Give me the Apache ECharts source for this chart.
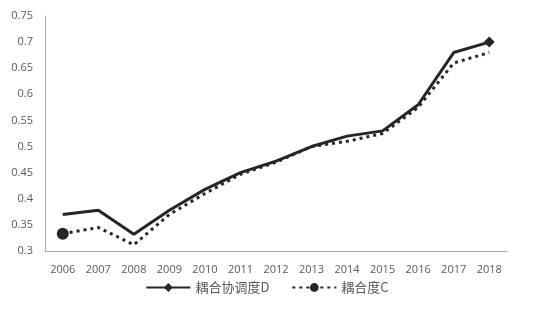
<!DOCTYPE html>
<html><head><meta charset="utf-8">
<script src="https://cdn.jsdelivr.net/npm/echarts@6/dist/echarts.min.js"></script>
<style>html,body{margin:0;padding:0;background:#fff}#c{width:534px;height:320px}</style>
</head><body><div id="c"></div>
<script>
var years = ['2006','2007','2008','2009','2010','2011','2012','2013','2014','2015','2016','2017','2018'];
var seriesD = [0.370, 0.378, 0.332, 0.378, 0.418, 0.450, 0.472, 0.500, 0.520, 0.530, 0.580, 0.680, 0.700];
var seriesC = [0.333, 0.345, 0.312, 0.370, 0.410, 0.447, 0.470, 0.500, 0.510, 0.525, 0.575, 0.660, 0.680];
var nameD = '耦合协调度D';
var nameC = '耦合度C';

var dataD = seriesD.map(function(v, i){ return i === seriesD.length - 1 ? {value: v, symbol: 'diamond', symbolSize: 11} : {value: v, symbol: 'none'}; });
var dataC = seriesC.map(function(v, i){ return i === 0 ? {value: v, symbol: 'circle', symbolSize: 12} : {value: v, symbol: 'none'}; });

var chart = echarts.init(document.getElementById('c'));
var txt = '#595959';
chart.setOption({
  animation: false,
  grid: {left: 45, right: 27, top: 16, bottom: 69},
  legend: {
    bottom: 21, left: 'center', itemGap: 22, itemWidth: 44, itemHeight: 11,
    textStyle: {color: txt, fontSize: 13, fontFamily: 'Noto Sans CJK SC'},
    data: [nameD, nameC]
  },
  xAxis: {
    type: 'category', data: years, boundaryGap: true,
    axisLine: {lineStyle: {color: '#a6a6a6', width: 1}},
    axisTick: {show: false},
    axisLabel: {color: txt, fontSize: 11, margin: 13, fontFamily: 'Open Sans'}
  },
  yAxis: {
    type: 'value', min: 0.3, max: 0.75, interval: 0.05,
    axisLine: {show: true, lineStyle: {color: '#a6a6a6', width: 1}},
    axisTick: {show: false},
    splitLine: {show: false},
    axisLabel: {color: txt, fontSize: 11, margin: 12, fontFamily: 'Open Sans',
      formatter: function(v){ return String(parseFloat(v.toFixed(2))); }}
  },
  series: [
    {name: nameD, type: 'line', data: dataD, symbol: 'diamond', symbolSize: 11,
     lineStyle: {color: '#262626', width: 3}, itemStyle: {color: '#262626'}},
    {name: nameC, type: 'line', data: dataC, symbol: 'circle', symbolSize: 12,
     lineStyle: {color: '#262626', width: 3, type: [3, 4], cap: 'butt'}, itemStyle: {color: '#262626'}}
  ]
});
</script></body></html>
